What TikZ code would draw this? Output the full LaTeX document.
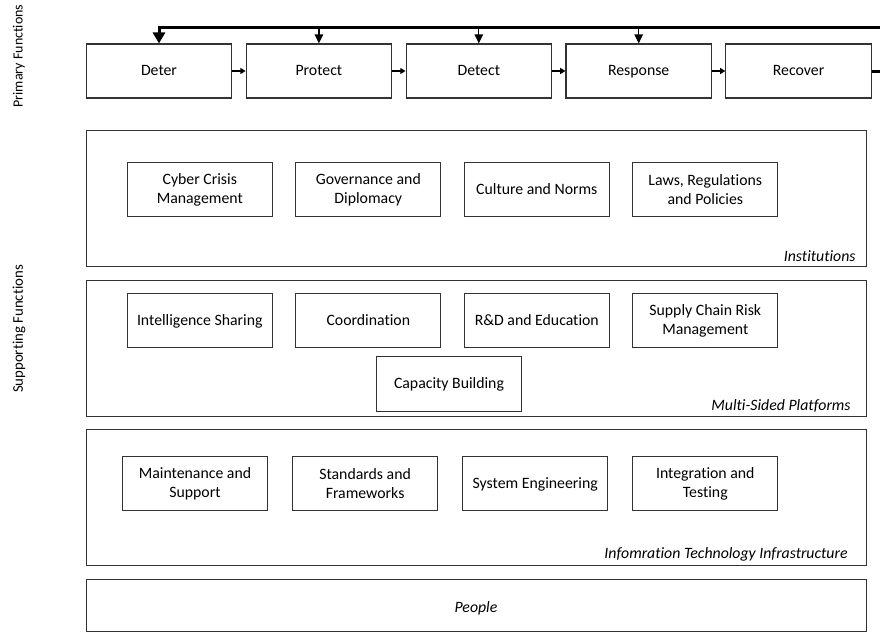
\documentclass[tikz,border=0pt]{standalone}
\usepackage{fontspec}
\setmainfont{Carlito}[Ligatures=NoCommon]
\usetikzlibrary{arrows.meta}
\usetikzlibrary{positioning}

\begin{document}
\begin{tikzpicture}[x=0.5pt,y=-0.5pt,
	every node/.style={font=\fontsize{7.9pt}{9.6pt}\selectfont,inner sep=0pt},
	func/.style={draw=black!80,line width=0.55pt,minimum width=72.75pt,minimum height=27pt,text height=5.2pt,text depth=0.4pt},
	item/.style={draw=black!80,line width=0.55pt,minimum width=72.5pt,minimum height=27.3pt,align=center},
	oneline/.style={text height=5.2pt,text depth=0.4pt},
	layer/.style={draw=black!80,line width=0.55pt,minimum width=390pt,anchor=north west},
	layername/.style={font=\fontsize{7.9pt}{9.6pt}\selectfont\itshape,anchor=base east},
	side/.style={rotate=90,font=\fontsize{7.4pt}{9pt}\selectfont},
	flow/.style={line width=0.6pt,-{Triangle[length=2.6pt,width=3pt]}},
	drop/.style={line width=0.6pt,-{Triangle[length=4.5pt,width=4.2pt]}},
	feedback/.style={line width=1.5pt,-{Triangle[length=5.5pt,width=6pt]}}]
	\useasboundingbox (0,0) rectangle (880,632);
	\clip (0,0) rectangle (880,632);

	\node[side,font=\fontsize{7pt}{8.5pt}\selectfont] (primary) at (19,56) {Primary Functions};
	\node[side] (support) at (19,329) {Supporting Functions};

	\node[func] (deter) at (159,71) {Deter};
	\node[func] [right=6.65pt of deter] (protect) {Protect};
	\node[func] [right=6.65pt of protect] (detect) {Detect};
	\node[func] [right=6.65pt of detect] (response) {Response};
	\node[func] [right=6.65pt of response] (recover) {Recover};

	\foreach \a/\b in {deter/protect,protect/detect,detect/response,response/recover}
		\draw[flow] (\a.east) -- (\b.west);

	\coordinate (loop) at (895,27);
	\draw[feedback] (recover.east) -| (loop) -| (deter.north);
	\foreach \n in {protect,detect,response}
		\draw[drop] (\n.north |- loop) -- (\n.north);

	\node[layer,minimum height=68pt] (inst) at (86,130) {};
	\node[item] (crisis) at (199.8,189.5) {Cyber Crisis\\Management};
	\node[item] [right=11.2pt of crisis] (governance) {Governance and\\Diplomacy};
	\node[item,oneline] [right=11.2pt of governance] (culture) {Culture and Norms};
	\node[item] [right=11.2pt of culture] (laws) {Laws, Regulations\\and Policies};
	\node[layername] (instname) at (856,261) {Institutions};

	\node[layer,minimum height=67.85pt] (msp) at (86,280) {};
	\node[item,oneline] (intel) at (199.8,320.5) {Intelligence Sharing};
	\node[item,oneline] [right=11.2pt of intel] (coord) {Coordination};
	\node[item,oneline] [right=11.2pt of coord] (rnd) {R\&D and Education};
	\node[item] [right=11.2pt of rnd] (supply) {Supply Chain Risk\\Management};
	\node[item,oneline] (capacity) at (449,383.8) {Capacity Building};
	\node[layername] (mspname) at (851,410) {Multi-Sided Platforms};

	\node[layer,minimum height=67.85pt] (infra) at (86,429.3) {};
	\node[item] (maint) at (195,483.5) {Maintenance and\\Support};
	\node[item] [right=12pt of maint] (standards) {Standards and\\Frameworks};
	\node[item,oneline] [right=12pt of standards] (syseng) {System Engineering};
	\node[item] [right=12pt of syseng] (integ) {Integration and\\Testing};
	\node[layername] (infraname) at (848,558) {Infomration Technology Infrastructure};

	\node[layer,minimum height=26.15pt] (people) at (86,578.7) {};
	\node[font=\fontsize{7.9pt}{9.6pt}\selectfont\itshape] (peoplename) at (476,608) {People};
\end{tikzpicture}
\end{document}
